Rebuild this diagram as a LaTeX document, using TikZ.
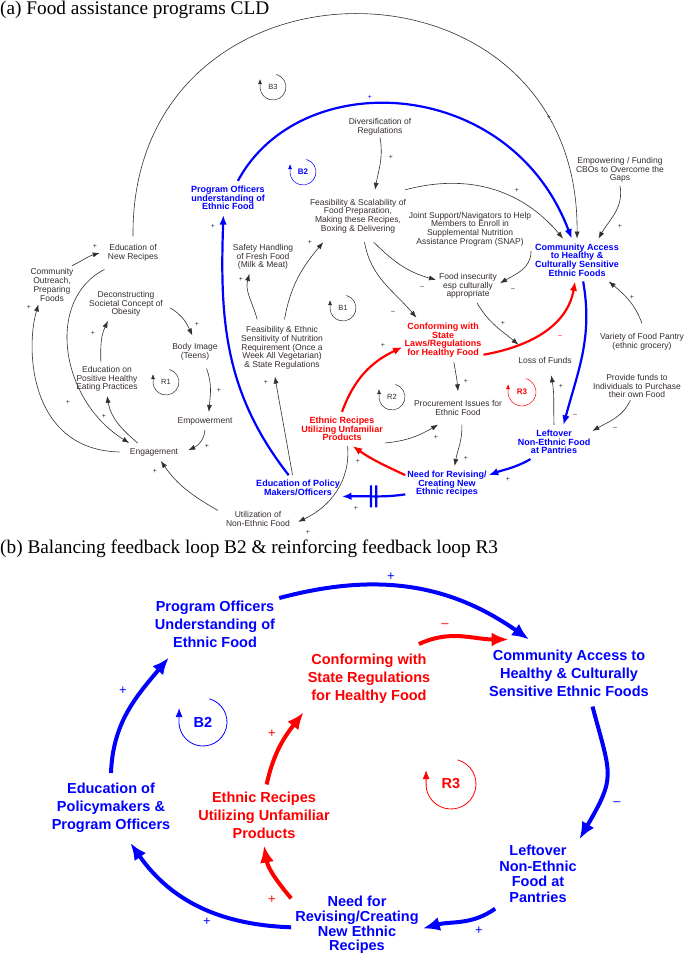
\documentclass[tikz,border=0pt]{standalone}
\usepackage{fontspec}
\setmainfont{Liberation Sans}
\newfontfamily\titlefont{Liberation Serif}
\usetikzlibrary{arrows.meta,decorations.markings}
\definecolor{vblue}{RGB}{0,0,255}
\definecolor{vred}{RGB}{255,0,0}
\definecolor{txt}{RGB}{55,45,45}
\tikzset{
  ta/.style={font=\fontsize{8.5}{8.7}\selectfont, align=center, text=txt, inner xsep=3pt, inner ysep=4pt},
  tab/.style={font=\fontsize{9}{8.6}\selectfont\bfseries, align=center, text=vblue, inner xsep=2pt, inner ysep=5pt},
  tar/.style={tab, text=vred},
  sgA/.style={font=\fontsize{7}{7}\selectfont, text=txt, inner sep=0pt},
  arA/.style={draw=txt, line width=0.6pt, -{Latex[length=7pt,width=5pt]}},
  arAb/.style={draw=vblue, line width=2.2pt, -{Latex[length=9.5pt,width=7.5pt]}},
  arAr/.style={arAb, draw=vred},
  lpA/.style={font=\fontsize{7.5}{8}\selectfont, text=txt, inner sep=0pt},
  lpline/.style={draw=txt, line width=0.5pt, -{Latex[length=5pt,width=4pt]}},
  tb/.style={font=\fontsize{14.5}{18}\selectfont\bfseries, align=center, text=vblue, inner xsep=4pt, inner ysep=10pt},
  tbr/.style={tb, text=vred},
  sgB/.style={font=\fontsize{13}{13}\selectfont, text=vblue, inner sep=0pt},
  arB/.style={draw=vblue, line width=4pt, -{Latex[length=17pt,width=14pt]}},
  arBr/.style={arB, draw=vred},
  delay/.style={postaction={decorate}, decoration={markings, mark=at position 0.5 with {\draw[vblue, line width=2.2pt, -] (-2.6pt,-11pt) -- (-2.6pt,11pt) (2.6pt,-11pt) -- (2.6pt,11pt);}}},
}
\begin{document}
\begin{tikzpicture}[x=1pt,y=1pt]
\useasboundingbox (0,-955) rectangle (685,0);
\fill[white] (0,-955) rectangle (685,0);

% ---------- titles
\node[anchor=base west, inner sep=0pt, font=\titlefont\fontsize{19.3}{21}\selectfont] (titleA) at (0,-15) {(a) Food assistance programs CLD};
\node[anchor=base west, inner sep=0pt, font=\titlefont\fontsize{19.3}{21}\selectfont] (titleB) at (0,-553) {(b) Balancing feedback loop B2 \& reinforcing feedback loop R3};

% ---------- panel (a) variables
\node[ta, inner ysep=2pt] (n_div) at (380,-127) {Diversification of\\Regulations};
\node[ta, inner ysep=9pt] (n_fsc) at (358,-216) {Feasibility \& Scalability of\\Food Preparation,\\Making these Recipes,\\Boxing \& Delivering};
\node[tab] (n_po) at (228,-198) {Program Officers\\understanding of\\Ethnic Food};
\node[ta, inner ysep=5pt] (n_js) at (470,-229) {Joint Support/Navigators to Help\\Members to Enroll in\\Supplemental Nutrition\\Assistance Program (SNAP)};
\node[ta, inner ysep=3pt] (n_emp) at (620,-170) {Empowering / Funding\\CBOs to Overcome the\\Gaps};
\node[tab] (n_ca) at (577,-260) {Community Access\\to Healthy \&\\Culturally Sensitive\\Ethnic Foods};
\node[ta] (n_fi) at (468,-286) {Food insecurity\\esp culturally\\appropriate};
\node[tar] (n_conf) at (443,-340) {Conforming with\\State\\Laws/Regulations\\for Healthy Food};
\node[ta, inner ysep=12pt] (n_lof) at (545,-360) {Loss of Funds};
\node[ta, inner ysep=10pt] (n_var) at (642,-342) {Variety of Food Pantry\\(ethnic grocery)};
\node[ta, inner ysep=2pt] (n_prov) at (637,-386) {Provide funds to\\Individuals to Purchase\\their own Food};
\node[ta, inner ysep=9pt] (n_proc) at (458,-408) {Procurement Issues for\\Ethnic Food};
\node[tab] (n_left) at (554,-442) {Leftover\\Non-Ethnic Food\\at Pantries};
\node[tab] (n_need) at (447,-484) {Need for Revising/\\Creating New\\Ethnic recipes};
\node[tar] (n_er) at (342,-429) {Ethnic Recipes\\Utilizing Unfamiliar\\Products};
\node[ta, inner ysep=7pt] (n_fes) at (282,-348) {Feasibility \& Ethnic\\Sensitivity of Nutrition\\Requirement (Once a\\Week All Vegetarian)\\\& State Regulations};
\node[ta] (n_safe) at (263,-257) {Safety Handling\\of Fresh Food\\(Milk \& Meat)};
\node[ta, inner sep=8pt] (n_enr) at (133,-253) {Education of\\New Recipes};
\node[ta, inner ysep=3pt] (n_co) at (52,-285) {Community\\Outreach,\\Preparing\\Foods};
\node[ta, inner xsep=7pt] (n_dec) at (126,-304) {Deconstructing\\Societal Concept of\\Obesity};
\node[ta, inner ysep=8pt] (n_body) at (195,-352) {Body Image\\(Teens)};
\node[ta] (n_edp) at (107,-379) {Education on\\Positive Healthy\\Eating Practices};
\node[ta, inner ysep=5pt] (n_empw) at (205,-421) {Empowerment};
\node[ta, inner xsep=10pt, inner ysep=5pt] (n_eng) at (154,-452) {Engagement};
\node[tab] (n_edu) at (298,-488) {Education of Policy\\Makers/Officers};
\node[ta, inner xsep=8pt] (n_util) at (258,-519) {Utilization of\\Non-Ethnic Food};

% ---------- panel (a) loop markers
\node[lpA] (l_b3) at (273,-87) {B3};
\draw[lpline] (l_b3.center) ++(75:13) arc[start angle=75,end angle=-175,radius=13] -- ++(0,9);
\node[lpA, text=vblue, font=\fontsize{8}{8}\selectfont\bfseries] (l_b2) at (303,-172) {B2};
\draw[lpline, draw=vblue] (l_b2.center) ++(75:13) arc[start angle=75,end angle=-175,radius=13] -- ++(0,9);
\node[lpA] (l_b1) at (343,-308) {B1};
\draw[lpline] (l_b1.center) ++(75:13) arc[start angle=75,end angle=-175,radius=13] -- ++(0,9);
\node[lpA] (l_r2) at (392,-397) {R2};
\draw[lpline] (l_r2.center) ++(75:13) arc[start angle=75,end angle=-175,radius=13] -- ++(0,9);
\node[lpA, text=vred, font=\fontsize{8}{8}\selectfont\bfseries] (l_r3) at (522,-392) {R3};
\draw[lpline, draw=vred] (l_r3.center) ++(75:14) arc[start angle=75,end angle=-175,radius=14] -- ++(0,9);
\node[lpA] (l_r1) at (166,-382) {R1};
\draw[lpline] (l_r1.center) ++(75:13) arc[start angle=75,end angle=-175,radius=13] -- ++(0,9);

% ---------- panel (a) links
\draw[arA] (n_enr.north) .. controls (130,60) and (580,60) .. (n_ca.north);
\draw[arAb] (n_po.60) .. controls (300,-65) and (510,-75) .. (n_ca.104);
\draw[arA] (n_div.south) to[out=-80,in=80] (n_fsc.57);
\draw[arA] (n_fsc.29) to[out=15,in=130] (n_ca.123);
\draw[arA] (n_emp.south) to[out=-80,in=60] (n_ca.45);
\draw[arA] (n_var.north) to[out=110,in=-40] (n_ca.-34);
\draw[arA] (n_js.-20) to[out=-90,in=30] (n_fi.5);
\draw[arA] (n_fsc.-59) to[out=-45,in=165] (n_fi.169);
\draw[arA] (n_fsc.-76) to[out=-80,in=130] (n_conf.140);
\draw[arA] (n_fi.-62) to[out=-60,in=140] (n_lof.150);
\draw[arAr] (n_conf.-20) to[out=10,in=-100] (n_ca.-95);
\draw[arAb] (n_ca.-74) to[out=-80,in=75] (n_left.61);
\draw[arA] (n_left.north) to[out=92,in=-80] (n_lof.-68);
\draw[arA] (n_prov.-115) to[out=-115,in=30] (n_left.16);
\draw[arAb] (n_left.-144) to[out=-150,in=20] (n_need.12);
\draw[arA] (n_conf.-64) to[out=-80,in=95] (n_proc.north);
\draw[arA] (n_proc.-77) to[out=-88,in=80] (n_need.67);
\draw[arAr] (n_need.168) to[out=155,in=-35] (n_er.-58);
\draw[arA] (n_er.-18) to[out=5,in=-150] (n_proc.-140);
\draw[arAr] (n_er.north) to[out=70,in=-155] (n_conf.190);
\draw[arAb, delay] (n_need.-166) to[out=-172,in=2] (n_edu.-11);
\draw[arA] (n_er.-72) to[out=-85,in=25] (n_util.-4);
\draw[arA] (n_edu.113) to[out=100,in=-80] (n_fes.-104);
\draw[arAb] (n_edu.126) to[out=128,in=-92] (n_po.-105);
\draw[arA] (n_fes.131) to[out=105,in=-105] (n_safe.-129);
\draw[arA] (n_fes.85) to[out=80,in=-130] (n_fsc.-143);
\draw[arA] (n_util.168) to[out=150,in=-55] (n_eng.-53);
\draw[arA] (n_empw.south) to[out=-95,in=25] (n_eng.3);
\draw[arA] (n_body.-55) to[out=-70,in=85] (n_empw.67);
\draw[arA] (n_dec.-5) to[out=-30,in=115] (n_body.99);
\draw[arA] (n_edp.110) to[out=92,in=-115] (n_dec.-137);
\draw[arA] (n_eng.151) to[out=140,in=-80] (n_edp.south);
\draw[arA] (n_enr.-150) .. controls (45,-300) and (60,-400) .. (n_eng.160);
\draw[arA] (n_eng.west) .. controls (30,-450) and (25,-350) .. (n_co.-125);
\draw[arA] (n_co.44) to[out=25,in=-165] (n_enr.west);

% ---------- panel (a) polarities
\node[sgA] (s1) at (549,-117) {+};
\node[sgA, text=vblue] (s2) at (370,-97) {+};
\node[sgA] (s3) at (391,-157) {+};
\node[sgA] (s4) at (517,-190) {+};
\node[sgA] (s5) at (620,-226) {+};
\node[sgA] (s6) at (632,-297) {+};
\node[sgA] (s7) at (513,-289) {\textendash};
\node[sgA] (s8) at (422,-287) {\textendash};
\node[sgA] (s9) at (393,-312) {\textendash};
\node[sgA] (s10) at (503,-323) {+};
\node[sgA, text=vred] (s11) at (560,-336) {\textendash};
\node[sgA] (s12) at (575,-415) {\textendash};
\node[sgA] (s13) at (561,-386) {+};
\node[sgA] (s14) at (615,-428) {\textendash};
\node[sgA] (s15) at (508,-479) {+};
\node[sgA] (s16) at (466,-381) {+};
\node[sgA] (s17) at (466,-458) {+};
\node[sgA] (s18) at (358,-461) {+};
\node[sgA] (s19) at (436,-437) {+};
\node[sgA] (s20) at (383,-345) {+};
\node[sgA] (s21) at (356,-508) {+};
\node[sgA] (s22) at (308,-532) {+};
\node[sgA] (s23) at (266,-382) {+};
\node[sgA] (s24) at (213,-226) {+};
\node[sgA] (s25) at (241,-279) {+};
\node[sgA] (s26) at (310,-242) {+};
\node[sgA] (s27) at (155,-471) {+};
\node[sgA] (s28) at (207,-446) {+};
\node[sgA] (s29) at (219,-390) {+};
\node[sgA] (s30) at (197,-324) {+};
\node[sgA] (s31) at (93,-333) {+};
\node[sgA] (s32) at (104,-416) {+};
\node[sgA] (s33) at (68,-402) {+};
\node[sgA] (s34) at (29,-307) {+};
\node[sgA] (s35) at (95,-246) {+};

% ---------- panel (b) variables
\node[tb] (b_po) at (215,-624) {Program Officers\\Understanding of\\Ethnic Food};
\node[tb] (b_ca) at (569,-673) {Community Access to\\Healthy \& Culturally\\Sensitive Ethnic Foods};
\node[tbr] (b_conf) at (369,-679) {Conforming with\\State Regulations\\for Healthy Food};
\node[tb] (b_edu) at (111,-808) {Education of\\Policymakers \&\\Program Officers};
\node[tbr, inner ysep=7pt] (b_er) at (264,-815) {Ethnic Recipes\\Utilizing Unfamiliar\\Products};
\node[tb, font=\fontsize{14.5}{15.5}\selectfont\bfseries, inner ysep=6pt] (b_left) at (538,-874) {Leftover\\Non-Ethnic\\Food at\\Pantries};
\node[tb, font=\fontsize{14.5}{14.7}\selectfont\bfseries, inner ysep=4pt] (b_need) at (357,-925) {Need for\\Revising/Creating\\New Ethnic\\Recipes};

% ---------- panel (b) loop markers
\node[font=\fontsize{14.5}{15}\selectfont\bfseries, text=vblue, inner sep=0pt] (lb_b2) at (203,-722) {B2};
\draw[draw=vblue, line width=0.8pt, -{Latex[length=9pt,width=7pt]}] (lb_b2.center) ++(75:24) arc[start angle=75,end angle=-175,radius=24] -- ++(0,16);
\node[font=\fontsize{14.5}{15}\selectfont\bfseries, text=vred, inner sep=0pt] (lb_r3) at (451,-784) {R3};
\draw[draw=vred, line width=0.8pt, -{Latex[length=9pt,width=7pt]}] (lb_r3.center) ++(75:25) arc[start angle=75,end angle=-175,radius=25] -- ++(0,16);

% ---------- panel (b) links
\draw[arB] (b_po.22) to[out=15,in=145] (b_ca.140);
\draw[arBr] (b_conf.35) to[out=25,in=180] (b_ca.151);
\draw[arB] (b_ca.-55) to[out=-75,in=60,looseness=1.4] (b_left.40);
\draw[arB] (b_left.-141) to[out=-145,in=15] (b_need.-3);
\draw[arB] (b_need.182) to[out=178,in=-55] (b_edu.-61);
\draw[arB] (b_edu.north) to[out=88,in=-130] (b_po.-144);
\draw[arBr] (b_need.158) to[out=130,in=-80] (b_er.south);
\draw[arBr] (b_er.85) to[out=78,in=-128] (b_conf.-153);

% ---------- panel (b) polarities
\node[sgB] (t1) at (391,-577) {+};
\node[sgB, text=vred] (t2) at (445,-626) {\textendash};
\node[sgB] (t3) at (617,-804) {\textendash};
\node[sgB] (t4) at (479,-931) {+};
\node[sgB] (t5) at (207,-922) {+};
\node[sgB] (t6) at (123,-691) {+};
\node[sgB, text=vred] (t7) at (272,-900) {+};
\node[sgB, text=vred] (t8) at (272,-734) {+};
\end{tikzpicture}
\end{document}
